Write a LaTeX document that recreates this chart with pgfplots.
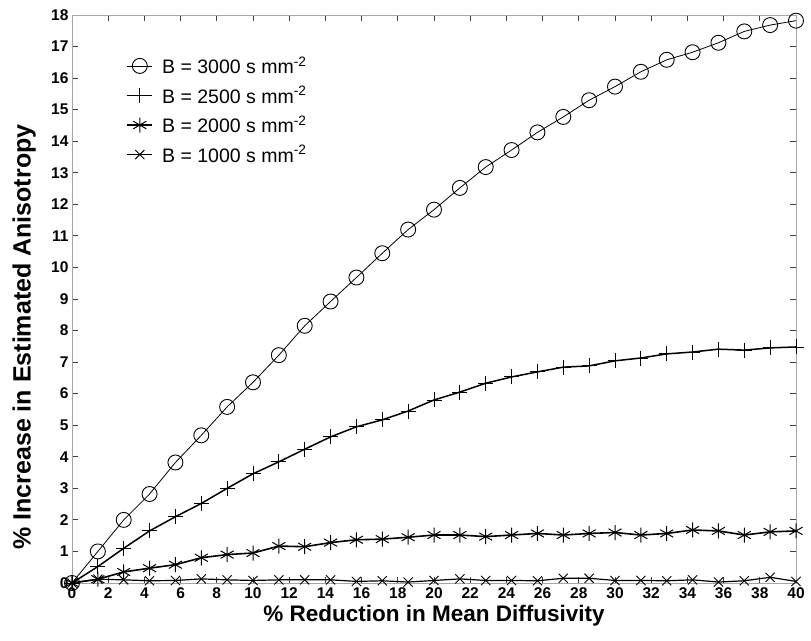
\documentclass[border=0pt]{standalone}
\usepackage{pgfplots}
\pgfplotsset{compat=1.18}
\usepackage{fontspec}
\setmainfont{Liberation Sans}

\pgfplotstableread{
x       c3000  c2500  c2000  c1000
0.0000  0.00   0.00   0.00   0.00
1.4286  1.00   0.52   0.12   0.12
2.8571  2.00   1.10   0.35   0.10
4.2857  2.82   1.65   0.47   0.07
5.7143  3.82   2.10   0.58   0.08
7.1429  4.68   2.52   0.80   0.13
8.5714  5.58   3.00   0.90   0.10
10.0000 6.36   3.46   0.95   0.08
11.4286 7.22   3.84   1.17   0.10
12.8571 8.15   4.24   1.15   0.10
14.2857 8.92   4.63   1.28   0.10
15.7143 9.68   4.95   1.37   0.05
17.1429 10.45  5.17   1.39   0.07
18.5714 11.20  5.45   1.45   0.03
20.0000 11.83  5.80   1.52   0.08
21.4286 12.52  6.05   1.52   0.13
22.8571 13.18  6.33   1.47   0.08
24.2857 13.72  6.53   1.52   0.08
25.7143 14.28  6.69   1.57   0.07
27.1429 14.77  6.84   1.52   0.15
28.5714 15.30  6.88   1.57   0.15
30.0000 15.73  7.04   1.60   0.08
31.4286 16.20  7.13   1.52   0.08
32.8571 16.58  7.26   1.57   0.07
34.2857 16.82  7.32   1.68   0.10
35.7143 17.12  7.41   1.65   0.03
37.1429 17.48  7.38   1.52   0.07
38.5714 17.68  7.45   1.62   0.18
40.0000 17.82  7.48   1.65   0.05
}\datatable

\begin{document}
\begin{tikzpicture}
\begin{axis}[
    name=main,
    width=724pt, height=568pt, scale only axis,
    xmin=0, xmax=40, ymin=0, ymax=18,
    xtick={0,2,...,40}, ytick={0,1,...,18},
    tick align=inside, major tick length=6pt,
    axis line style={draw=gray!70, line width=0.9pt},
    tick style={draw=black!75, line width=0.8pt},
    tick label style={font=\fontsize{15.5}{17}\selectfont\bfseries},
    xticklabel style={yshift=-1.5pt},
    /pgf/number format/assume math mode=true,
    xlabel={\% Reduction in Mean Diffusivity},
    ylabel={\% Increase in Estimated Anisotropy},
    xlabel style={font=\fontsize{22.5}{26}\selectfont\bfseries, at={(axis description cs:0.5,-0.058)}, anchor=center},
    ylabel style={font=\fontsize{25}{28}\selectfont\bfseries, at={(axis description cs:-0.066,0.433)}, anchor=center},
    legend style={draw=none, fill=none, at={(axis cs:3.0,16.75)}, anchor=north west,
        font=\fontsize{19.5}{21}\selectfont, row sep=7pt, column sep=7pt, inner sep=0pt,
        nodes={inner sep=2pt}},
    legend cell align=left,
    legend image code/.code={
        \draw[mark repeat=2, mark phase=2] plot coordinates {(0pt,0pt) (12.5pt,0pt) (25pt,0pt)};
    },
]
\addplot[black, line width=0.8pt, mark=o, mark size=7.5pt, mark options={line width=0.9pt}] table[x=x, y=c3000] {\datatable};
\addlegendentry{B = 3000 s mm\textsuperscript{-2}}
\addplot[black, line width=1.5pt, mark=+, mark size=7.5pt, mark options={line width=0.9pt}] table[x=x, y=c2500] {\datatable};
\addlegendentry{B = 2500 s mm\textsuperscript{-2}}
\addplot[black, line width=1.6pt, mark=asterisk, mark size=7.5pt, mark options={line width=1pt}] table[x=x, y=c2000] {\datatable};
\addlegendentry{B = 2000 s mm\textsuperscript{-2}}
\addplot[black, line width=1.2pt, mark=x, mark size=6.5pt, mark options={line width=0.9pt}] table[x=x, y=c1000] {\datatable};
\addlegendentry{B = 1000 s mm\textsuperscript{-2}}
\end{axis}
\path (main.south west) ++(-72pt,-58pt) rectangle ([shift={(15pt,15pt)}]main.north east);
\end{tikzpicture}
\end{document}
